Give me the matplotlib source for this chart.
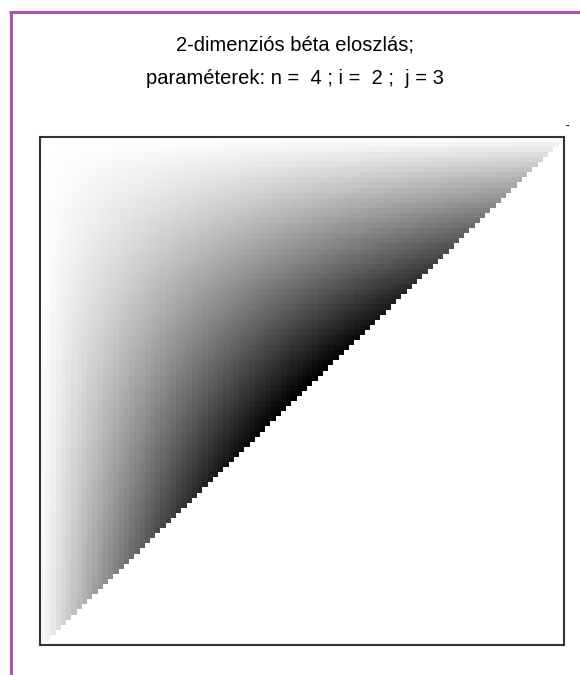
import numpy as np
import matplotlib
matplotlib.use("Agg")
import matplotlib.pyplot as plt

# paraméterek
n = 4
i = 2
j = 3
racs = 100  # cellák száma tengelyenként

title_line1 = "2-dimenziós béta eloszlás;"
title_line2 = "paraméterek: n =  %d ; i =  %d ;  j = %d" % (n, i, j)

# sűrűség: x^(i-1) (y-x)^(j-i-1) (1-y)^(n-j), ha x <= y
szelek = np.linspace(0, 1, racs + 1)
kozep = (szelek[:-1] + szelek[1:]) / 2
X, Y = np.meshgrid(kozep, kozep)
suruseg = X ** (i - 1) * (Y - X).clip(min=0) ** (j - i - 1) * (1 - Y) ** (n - j)
suruseg = np.ma.masked_where(Y < X, suruseg)

plt.rcParams["font.family"] = ["Liberation Sans", "DejaVu Sans"]

fig = plt.figure(figsize=(5.8, 6.75), dpi=100)
ax = fig.add_axes([0.069, 0.0444, 0.903, 0.753])
ax.pcolormesh(szelek, szelek, suruseg, cmap="gray_r", shading="flat",
              vmin=0, vmax=suruseg.max())
ax.set_xlim(0, 1)
ax.set_ylim(0, 1)
ax.set_xticks([])
ax.set_yticks([])
for s in ax.spines.values():
    s.set_color("#333333")
    s.set_linewidth(1.5)

fig.text(0.509, 1 - 45 / 675, title_line1, ha="center", va="center", fontsize=14.5)
fig.text(0.509, 1 - 78 / 675, title_line2, ha="center", va="center", fontsize=14.5)
fig.text(568 / 580, 1 - 126 / 675, "-", ha="center", va="center",
         fontsize=8, fontweight="bold")

# lila keret bal oldalt és felül
keret = "#ae52b2"
fig.add_artist(plt.Line2D([10.5 / 580, 10.5 / 580], [0, 1 - 13 / 675],
                          color=keret, lw=2.2, solid_capstyle="butt",
                          transform=fig.transFigure))
fig.add_artist(plt.Line2D([9 / 580, 1], [1 - 11.5 / 675, 1 - 11.5 / 675],
                          color=keret, lw=2.2, solid_capstyle="butt",
                          transform=fig.transFigure))

fig.savefig("out.png", dpi=100)
